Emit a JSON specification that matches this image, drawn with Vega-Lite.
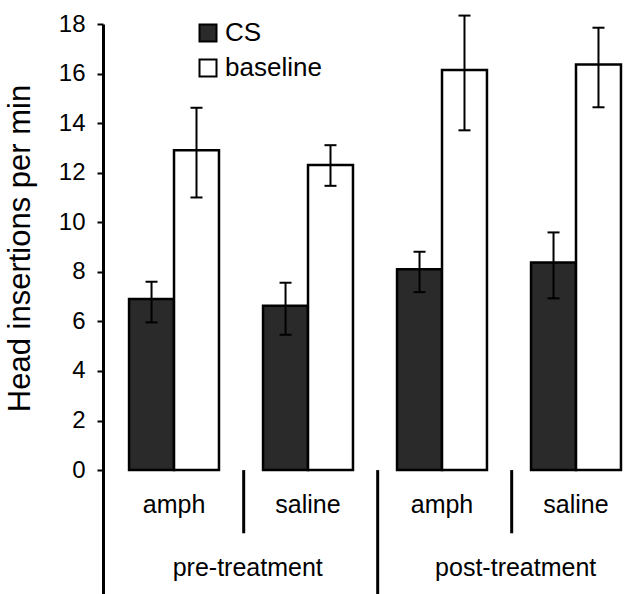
{
  "$schema": "https://vega.github.io/schema/vega-lite/v6.json",
  "width": 540,
  "height": 570,
  "autosize": {"type": "none"},
  "padding": {"left": 103, "top": 24, "right": 0, "bottom": 0},
  "background": "white",
  "config": {
    "view": {"stroke": null},
    "font": "Liberation Sans",
    "text": {"font": "Liberation Sans", "color": "black"}
  },
  "datasets": {
    "bars": [
      {"grp": "pre-amph", "series": "CS", "value": 6.9, "lo": 5.96, "hi": 7.6},
      {"grp": "pre-amph", "series": "baseline", "value": 12.91, "lo": 11.0, "hi": 14.62},
      {"grp": "pre-saline", "series": "CS", "value": 6.63, "lo": 5.46, "hi": 7.56},
      {"grp": "pre-saline", "series": "baseline", "value": 12.31, "lo": 11.47, "hi": 13.11},
      {"grp": "post-amph", "series": "CS", "value": 8.1, "lo": 7.18, "hi": 8.81},
      {"grp": "post-amph", "series": "baseline", "value": 16.14, "lo": 13.71, "hi": 18.34},
      {"grp": "post-saline", "series": "CS", "value": 8.38, "lo": 6.93, "hi": 9.59},
      {"grp": "post-saline", "series": "baseline", "value": 16.37, "lo": 14.64, "hi": 17.85}
    ],
    "drugs": [
      {"grp": "pre-amph", "drug": "amph"},
      {"grp": "pre-saline", "drug": "saline"},
      {"grp": "post-amph", "drug": "amph"},
      {"grp": "post-saline", "drug": "saline"}
    ],
    "shortdiv": [{"grp": "pre-saline"}, {"grp": "post-saline"}],
    "longdiv": [{"grp": "post-amph"}],
    "treat": [
      {"grp": "pre-saline", "label": "pre-treatment"},
      {"grp": "post-saline", "label": "post-treatment"}
    ]
  },
  "layer": [
    {
      "data": {"name": "bars"},
      "mark": {"type": "bar", "stroke": "black", "strokeWidth": 2.5},
      "encoding": {
        "x": {"field": "grp", "type": "nominal", "scale": {"domain": ["pre-amph", "pre-saline", "post-amph", "post-saline"], "paddingInner": 0, "paddingOuter": 0.015, "align": 1}, "axis": null},
        "xOffset": {"field": "series", "type": "nominal", "scale": {"domain": ["CS", "baseline"], "paddingInner": 0, "paddingOuter": 0.49}},
        "y": {
          "field": "value", "type": "quantitative",
          "scale": {"domain": [-5, 18], "nice": false, "zero": false},
          "axis": {
            "values": [0, 2, 4, 6, 8, 10, 12, 14, 16, 18],
            "title": "Head insertions per min",
            "grid": false,
            "labelFontSize": 24, "labelColor": "black", "labelPadding": 12,
            "tickSize": 6, "tickWidth": 2, "tickColor": "black",
            "domainColor": "black", "domainWidth": 3,
            "titleFontSize": 31, "titleFontWeight": "normal", "titleColor": "black",
            "titleAngle": -90, "titleX": -83, "titleY": 224, "titleAlign": "center", "titleBaseline": "middle"
          }
        },
        "fill": {
          "field": "series", "type": "nominal",
          "scale": {"domain": ["CS", "baseline"], "range": ["#2a2a2a", "white"]},
          "legend": {
            "orient": "none", "legendX": 92, "legendY": -4, "title": null,
            "symbolType": "square", "symbolSize": 289, "symbolStrokeColor": "black", "symbolStrokeWidth": 2, "symbolOpacity": 1,
            "labelFontSize": 26, "labelColor": "black", "labelOffset": 4, "rowPadding": 9, "padding": 0
          }
        }
      }
    },
    {
      "data": {"name": "bars"},
      "mark": {"type": "rule", "color": "black", "strokeWidth": 2},
      "encoding": {
        "x": {"field": "grp", "type": "nominal"},
        "xOffset": {"field": "series", "type": "nominal"},
        "y": {"field": "lo", "type": "quantitative"},
        "y2": {"field": "hi"}
      }
    },
    {
      "data": {"name": "bars"},
      "mark": {"type": "tick", "color": "black", "size": 12, "thickness": 2, "opacity": 1},
      "encoding": {
        "x": {"field": "grp", "type": "nominal"},
        "xOffset": {"field": "series", "type": "nominal"},
        "y": {"field": "lo", "type": "quantitative"}
      }
    },
    {
      "data": {"name": "bars"},
      "mark": {"type": "tick", "color": "black", "size": 12, "thickness": 2, "opacity": 1},
      "encoding": {
        "x": {"field": "grp", "type": "nominal"},
        "xOffset": {"field": "series", "type": "nominal"},
        "y": {"field": "hi", "type": "quantitative"}
      }
    },
    {
      "mark": {"type": "rule", "color": "black", "strokeWidth": 3},
      "encoding": {"y": {"datum": 0}}
    },
    {
      "data": {"name": "shortdiv"},
      "mark": {"type": "rule", "color": "black", "strokeWidth": 3},
      "encoding": {
        "x": {"field": "grp", "type": "nominal", "bandPosition": 0.02},
        "y": {"datum": 0},
        "y2": {"datum": -2.55}
      }
    },
    {
      "data": {"name": "longdiv"},
      "mark": {"type": "rule", "color": "black", "strokeWidth": 3},
      "encoding": {
        "x": {"field": "grp", "type": "nominal", "bandPosition": 0.02},
        "y": {"datum": 0},
        "y2": {"datum": -5}
      }
    },
    {
      "data": {"name": "drugs"},
      "mark": {"type": "text", "fontSize": 25, "baseline": "middle", "align": "center"},
      "encoding": {
        "x": {"field": "grp", "type": "nominal"},
        "y": {"datum": -1.4},
        "text": {"field": "drug"}
      }
    },
    {
      "data": {"name": "treat"},
      "mark": {"type": "text", "fontSize": 25, "baseline": "middle", "align": "center"},
      "encoding": {
        "x": {"field": "grp", "type": "nominal", "bandPosition": 0.05},
        "y": {"datum": -3.95},
        "text": {"field": "label"}
      }
    }
  ]
}
